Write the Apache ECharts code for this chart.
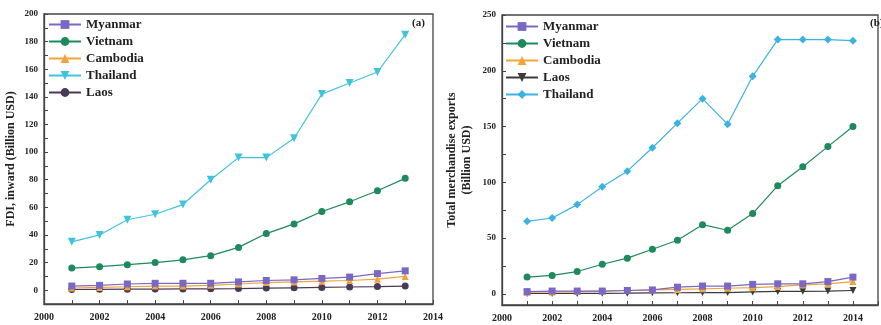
<!DOCTYPE html>
<html><head><meta charset="utf-8">
<script src="https://cdn.jsdelivr.net/npm/echarts@6/dist/echarts.min.js"></script>
<style>html,body{margin:0;padding:0;background:#fff}#c{width:881px;height:325px}</style>
</head><body><div id="c"></div>
<script>
// Panel (a): FDI inward, 2001-2013
var yearsA = [2001,2002,2003,2004,2005,2006,2007,2008,2009,2010,2011,2012,2013];
var fdiMyanmar  = [3,3.5,4.5,5,5,5,6,7,7.5,8.5,9.5,12,14];
var fdiVietnam  = [16,17,18.5,20,22,25,31,41,48,57,64,72,81];
var fdiCambodia = [1.5,2,2.5,3,3,3.5,4.5,5.5,6,6.5,7,8,10];
var fdiThailand = [35,40,51,55,62,80,96,96,110,142,150,158,185];
var fdiLaos     = [0.5,0.6,0.7,0.8,0.9,1,1.2,1.5,1.7,2,2.3,2.6,3];
// Panel (b): total merchandise exports, 2001-2014
var yearsB = [2001,2002,2003,2004,2005,2006,2007,2008,2009,2010,2011,2012,2013,2014];
var expMyanmar  = [2,2.5,2.5,2.5,3,3.5,6,7,7,8.5,9,9,11,15];
var expVietnam  = [15,16.5,20,26.5,32,40,48,62,57,72,97,114,132,150];
var expCambodia = [1.5,1.7,2,2.5,3,3.5,4,4.5,5,5.5,6.5,8,9,11];
var expLaos     = [0.3,0.4,0.4,0.5,0.6,0.9,1,1.1,1.1,1.7,2.2,2.3,2.5,3];
var expThailand = [65,68,80,96,110,131,153,175,152,195,228,228,228,227];
var legendA = ['Myanmar','Vietnam','Cambodia','Thailand','Laos'];
var legendB = ['Myanmar ','Vietnam ','Cambodia ','Laos ','Thailand '];
var yTicksA = [0,20,40,60,80,100,120,140,160,180,200];
var yMinorA = [-10,10,30,50,70,90,110,130,150,170,190];
var yTicksB = [0,50,100,150,200,250];
var yMinorB = [25,75,125,175,225];

var C = {my:'#7a68c4', vn:'#1e8a5c', cb:'#f2a43a', thA:'#40c4dc', laA:'#4a3a58', thB:'#3cb2e2', laB:'#3a3a3a'};
var FONT = 'Liberation Serif';
var axisCol = '#444';

function pairs(xs, ys){ return xs.map(function(x,i){ return [x, ys[i]]; }); }
function ser(name, xs, ys, idx, color, symbol, size, z, rot){
  return {name:name, type:'line', xAxisIndex:idx, yAxisIndex:idx, data:pairs(xs,ys),
    symbol:symbol, symbolSize:size, symbolRotate:rot||0, z:z||2,
    itemStyle:{color:color}, lineStyle:{color:color, width:1.2}, emphasis:{disabled:true}, animation:false};
}
function xAx(idx, max){
  return {type:'value', gridIndex:idx, min:2000, max:max, interval:1,
    axisLine:{onZero:false, lineStyle:{color:axisCol, width:1.3}},
    axisTick:{inside:true, length:4, lineStyle:{color:axisCol}},
    axisLabel:{formatter:function(v){ return (v%2===0 && v<=2014) ? String(v) : ''; },
      fontFamily:FONT, fontWeight:'bold', fontSize:10, color:'#222', margin:8},
    splitLine:{show:false}};
}
function yAx(idx, min, max, ticks, minor, name, gap){
  return {type:'value', gridIndex:idx, min:min, max:max,
    name:name, nameLocation:'middle', nameGap:gap, nameRotate:90,
    nameTextStyle:{fontFamily:FONT, fontWeight:'bold', fontSize:12, color:'#222', lineHeight:15},
    axisLine:{show:true, onZero:false, lineStyle:{color:axisCol, width:1.3}},
    axisTick:{inside:true, length:4, customValues:ticks.concat(minor), lineStyle:{color:axisCol}},
    axisLabel:{customValues:ticks,
      fontFamily:FONT, fontWeight:'bold', fontSize:9, color:'#222', margin:6},
    splitLine:{show:false}};
}
function leg(data, left, top){
  return {orient:'vertical', left:left, top:top, itemGap:4, itemWidth:32, itemHeight:11,
    textStyle:{fontFamily:FONT, fontWeight:'bold', fontSize:13, color:'#222'},
    data:data, selectedMode:false};
}

var chart = echarts.init(document.getElementById('c'), null, {renderer:'canvas'});
chart.setOption({
  backgroundColor:'#fff',
  animation:false,
  grid:[
    {left:44, top:14, right:448, bottom:21, show:true, borderColor:axisCol, borderWidth:1.3},
    {left:502, top:15, right:-6, bottom:20, show:true, borderColor:axisCol, borderWidth:1.3}
  ],
  xAxis:[xAx(0,2014), xAx(1,2015)],
  yAxis:[yAx(0,-10,200,yTicksA,yMinorA,'FDI, inward (Billion USD)',26),
         yAx(1,-10,250,yTicksB,yMinorB,'Total merchandise exports\n(Billion USD)',28)],
  legend:[leg(legendA,43,13), leg(legendB,500,15)],
  graphic:[
    {type:'text', left:412, top:18, style:{text:'(a)', font:'bold 11px "Liberation Serif"', fill:'#222'}},
    {type:'text', left:870, top:18, style:{text:'(b)', font:'bold 11px "Liberation Serif"', fill:'#222'}}
  ],
  series:[
    ser('Laos', yearsA, fdiLaos, 0, C.laA, 'circle', 7, 2),
    ser('Cambodia', yearsA, fdiCambodia, 0, C.cb, 'triangle', 7, 3),
    ser('Myanmar', yearsA, fdiMyanmar, 0, C.my, 'rect', 7, 4),
    ser('Vietnam', yearsA, fdiVietnam, 0, C.vn, 'circle', 7, 5),
    ser('Thailand', yearsA, fdiThailand, 0, C.thA, 'triangle', 8, 6, 180),
    ser('Laos ', yearsB, expLaos, 1, C.laB, 'triangle', 7, 2, 180),
    ser('Cambodia ', yearsB, expCambodia, 1, C.cb, 'triangle', 7, 3),
    ser('Myanmar ', yearsB, expMyanmar, 1, C.my, 'rect', 7, 4),
    ser('Vietnam ', yearsB, expVietnam, 1, C.vn, 'circle', 7, 5),
    ser('Thailand ', yearsB, expThailand, 1, C.thB, 'diamond', 8, 6)
  ]
});
</script></body></html>
